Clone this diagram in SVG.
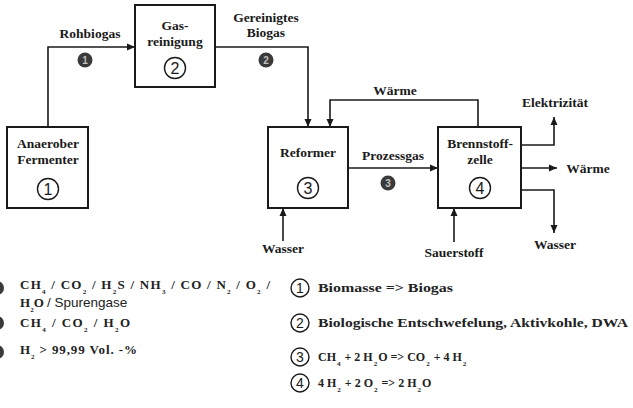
<svg xmlns="http://www.w3.org/2000/svg" width="633" height="408" viewBox="0 0 633 408">
<style>
.box{fill:#fff;stroke:#1a1a1a;stroke-width:2}
.ln{fill:none;stroke:#1a1a1a;stroke-width:1.6}
.t{font-family:"Liberation Serif",serif;font-weight:bold;font-size:13.5px;fill:#1a1a1a}
.c{text-anchor:middle}
.num{fill:none;stroke:#1a1a1a;stroke-width:1.4}
.numt{font-family:"Liberation Sans",sans-serif;font-size:16px;text-anchor:middle;fill:#1a1a1a}
.dot{fill:#3a3a3a}
.dott{font-family:"Liberation Sans",sans-serif;font-weight:bold;font-size:10px;text-anchor:middle;fill:#c0c0c0}
.sub{font-size:7px}
.leg{font-family:"Liberation Serif",serif;font-weight:bold;font-size:13px;fill:#222}
.leg2{font-family:"Liberation Serif",serif;font-weight:bold;font-size:12px;fill:#222}
.sans{font-family:"Liberation Sans",sans-serif;font-weight:normal;font-size:13.5px}
</style>
<defs>
<marker id="ah" markerWidth="8" markerHeight="8" refX="8" refY="4" orient="auto" markerUnits="userSpaceOnUse"><path d="M0,0.5 L8,4 L0,7.5Z" fill="#1a1a1a"/></marker>
</defs>
<rect width="633" height="408" fill="#fff"/>

<g id="connectors">
<path class="ln" d="M48,127 V47 H135" marker-end="url(#ah)"/>
<path class="ln" d="M215,47 H308 V127" marker-end="url(#ah)"/>
<path class="ln" d="M478,127 V100 H330 V127" marker-end="url(#ah)"/>
<path class="ln" d="M348,168 H438" marker-end="url(#ah)"/>
<path class="ln" d="M521,145 H554 V117" marker-end="url(#ah)"/>
<path class="ln" d="M521,168 H557" marker-end="url(#ah)"/>
<path class="ln" d="M521,190 H554 V233" marker-end="url(#ah)"/>
<path class="ln" d="M454,242 V208" marker-end="url(#ah)"/>
<path class="ln" d="M283,241 V208" marker-end="url(#ah)"/>
<text class="t c" x="90" y="38">Rohbiogas</text>
<circle class="dot" cx="85" cy="60" r="7.5"/><text class="dott" x="85" y="64">1</text>
<text class="t c" x="266" y="22">Gereinigtes</text>
<text class="t c" x="266" y="37">Biogas</text>
<circle class="dot" cx="266" cy="60" r="7.5"/><text class="dott" x="266" y="64">2</text>
<text class="t c" x="395" y="95">Wärme</text>
<text class="t c" x="393" y="160">Prozessgas</text>
<circle class="dot" cx="388" cy="183" r="7.5"/><text class="dott" x="388" y="187">3</text>
<text class="t c" x="555" y="107">Elektrizität</text>
<text class="t c" x="588" y="173">Wärme</text>
<text class="t c" x="555" y="249">Wasser</text>
<text class="t c" x="454" y="257">Sauerstoff</text>
<text class="t c" x="283" y="253">Wasser</text>
</g>

<g id="n1">
<rect class="box" x="7" y="127" width="81" height="81"/>
<text class="t c" x="48" y="148">Anaerober</text>
<text class="t c" x="48" y="164">Fermenter</text>
<circle class="num" cx="48" cy="189" r="10.5"/><text class="numt" x="48" y="195">1</text>
</g>
<g id="n2">
<rect class="box" x="135" y="5" width="80" height="82"/>
<text class="t c" x="175" y="30">Gas-</text>
<text class="t c" x="175" y="46">reinigung</text>
<circle class="num" cx="175" cy="68" r="10.5"/><text class="numt" x="175" y="74">2</text>
</g>
<g id="n3">
<rect class="box" x="268" y="127" width="80" height="81"/>
<text class="t c" x="308" y="157">Reformer</text>
<circle class="num" cx="308" cy="188" r="10.5"/><text class="numt" x="308" y="194">3</text>
</g>
<g id="n4">
<rect class="box" x="438" y="127" width="83" height="81"/>
<text class="t c" x="480" y="148">Brennstoff-</text>
<text class="t c" x="480" y="164">zelle</text>
<circle class="num" cx="480" cy="188" r="10.5"/><text class="numt" x="480" y="194">4</text>
</g>

<g id="legend-left">
<circle class="dot" cx="-3" cy="288" r="7"/>
<circle class="dot" cx="-3" cy="323" r="7"/>
<circle class="dot" cx="-3" cy="352" r="7"/>
<text class="leg" x="20" y="289" textLength="250" lengthAdjust="spacing">CH<tspan class="sub" dy="5">4</tspan><tspan dy="-5"> / CO</tspan><tspan class="sub" dy="5">2</tspan><tspan dy="-5"> / H</tspan><tspan class="sub" dy="5">2</tspan><tspan dy="-5">S / NH</tspan><tspan class="sub" dy="5">3</tspan><tspan dy="-5"> / CO / N</tspan><tspan class="sub" dy="5">2</tspan><tspan dy="-5"> / O</tspan><tspan class="sub" dy="5">2</tspan><tspan dy="-5"> /</tspan></text>
<text class="leg" x="20" y="307">H<tspan class="sub" dy="5">2</tspan><tspan dy="-5">O </tspan><tspan class="sans">/ Spurengase</tspan></text>
<text class="leg" x="20" y="327" textLength="110" lengthAdjust="spacing">CH<tspan class="sub" dy="5">4</tspan><tspan dy="-5"> / CO</tspan><tspan class="sub" dy="5">2</tspan><tspan dy="-5"> / H</tspan><tspan class="sub" dy="5">2</tspan><tspan dy="-5">O</tspan></text>
<text class="leg" x="20" y="354" textLength="117" lengthAdjust="spacing">H<tspan class="sub" dy="5">2</tspan><tspan dy="-5"> &gt; 99,99 Vol. -%</tspan></text>
</g>

<g id="legend-right">
<circle class="num" cx="300" cy="288" r="9"/><text class="numt" x="300" y="293" style="font-size:14px">1</text>
<circle class="num" cx="300" cy="323" r="9"/><text class="numt" x="300" y="328" style="font-size:14px">2</text>
<circle class="num" cx="300" cy="357" r="9"/><text class="numt" x="300" y="362" style="font-size:14px">3</text>
<circle class="num" cx="300" cy="383" r="9"/><text class="numt" x="300" y="388" style="font-size:14px">4</text>
<text class="leg" x="318" y="292" textLength="135" lengthAdjust="spacingAndGlyphs">Biomasse =&gt; Biogas</text>
<text class="leg" x="318" y="327" textLength="310" lengthAdjust="spacingAndGlyphs">Biologische Entschwefelung, Aktivkohle, DWA</text>
<text class="leg2" x="318" y="361">CH<tspan class="sub" dy="5" dx="1">4</tspan><tspan dy="-5" dx="1"> + 2 H</tspan><tspan class="sub" dy="5" dx="1">2</tspan><tspan dy="-5" dx="1">O =&gt; CO</tspan><tspan class="sub" dy="5" dx="1">2</tspan><tspan dy="-5" dx="1"> + 4 H</tspan><tspan class="sub" dy="5" dx="1">2</tspan></text>
<text class="leg2" x="318" y="387">4 H<tspan class="sub" dy="5" dx="1">2</tspan><tspan dy="-5" dx="1"> + 2 O</tspan><tspan class="sub" dy="5" dx="1">2</tspan><tspan dy="-5" dx="1"> =&gt; 2 H</tspan><tspan class="sub" dy="5" dx="1">2</tspan><tspan dy="-5" dx="1">O</tspan></text>
</g>
</svg>
